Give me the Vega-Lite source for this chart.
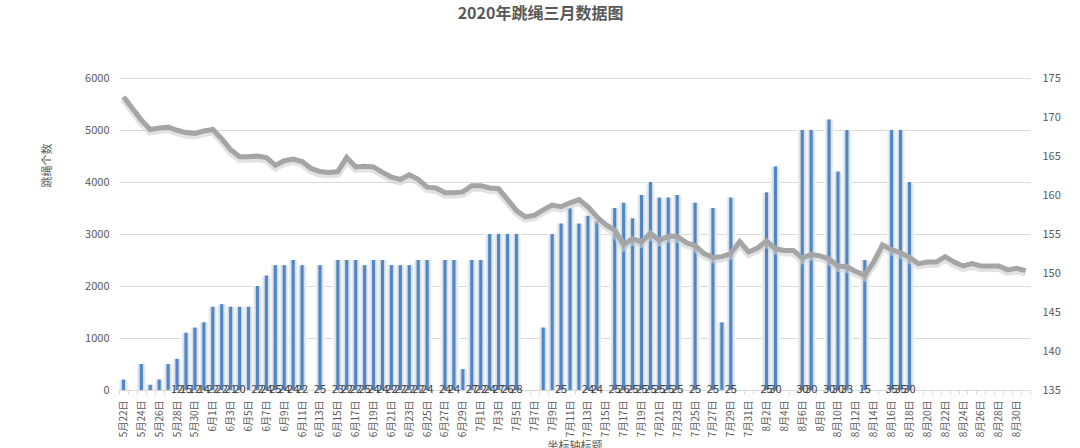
{
  "$schema": "https://vega.github.io/schema/vega-lite/v6.json",
  "width": 911,
  "height": 312,
  "autosize": "none",
  "padding": {"left": 119, "top": 78, "right": 50, "bottom": 58},
  "background": "white",
  "config": {"font": "Noto Sans CJK SC", "view": {"stroke": null}, "axis": {"labelOverlap": false}, "axisRight": {"labelOverlap": false}},
  "title": {"text": "2020年跳绳三月数据图", "anchor": "middle", "dx": -34, "offset": 50, "fontSize": 16, "fontWeight": "bold", "color": "#595959", "font": "Noto Sans CJK SC"},
  "data": {"values": [
    {"d": "5月22日", "n": 200, "m": null, "w": 172.6},
    {"d": "5月23日", "n": null, "m": null, "w": 171.1},
    {"d": "5月24日", "n": 500, "m": null, "w": 169.6},
    {"d": "5月25日", "n": 100, "m": null, "w": 168.4},
    {"d": "5月26日", "n": 200, "m": null, "w": 168.6},
    {"d": "5月27日", "n": 500, "m": null, "w": 168.7},
    {"d": "5月28日", "n": 600, "m": 12, "w": 168.3},
    {"d": "5月29日", "n": 1100, "m": 15, "w": 168.0},
    {"d": "5月30日", "n": 1200, "m": 12, "w": 167.9},
    {"d": "5月31日", "n": 1300, "m": 14, "w": 168.2},
    {"d": "6月1日", "n": 1600, "m": 22, "w": 168.4},
    {"d": "6月2日", "n": 1650, "m": 22, "w": 167.2},
    {"d": "6月3日", "n": 1600, "m": 21, "w": 165.8},
    {"d": "6月4日", "n": 1600, "m": 20, "w": 164.9},
    {"d": "6月5日", "n": 1600, "m": null, "w": 164.9},
    {"d": "6月6日", "n": 2000, "m": 22, "w": 165.0},
    {"d": "6月7日", "n": 2200, "m": 24, "w": 164.8},
    {"d": "6月8日", "n": 2400, "m": 25, "w": 163.8},
    {"d": "6月9日", "n": 2400, "m": 24, "w": 164.4},
    {"d": "6月10日", "n": 2500, "m": 24, "w": 164.6},
    {"d": "6月11日", "n": 2400, "m": 22, "w": 164.3},
    {"d": "6月12日", "n": null, "m": null, "w": 163.4},
    {"d": "6月13日", "n": 2400, "m": 25, "w": 163.0},
    {"d": "6月14日", "n": null, "m": null, "w": 162.9},
    {"d": "6月15日", "n": 2500, "m": 23, "w": 163.0},
    {"d": "6月16日", "n": 2500, "m": 22, "w": 164.8},
    {"d": "6月17日", "n": 2500, "m": 22, "w": 163.6},
    {"d": "6月18日", "n": 2400, "m": 25, "w": 163.7},
    {"d": "6月19日", "n": 2500, "m": 24, "w": 163.6},
    {"d": "6月20日", "n": 2500, "m": 24, "w": 162.9},
    {"d": "6月21日", "n": 2400, "m": 22, "w": 162.3},
    {"d": "6月22日", "n": 2400, "m": 22, "w": 162.0},
    {"d": "6月23日", "n": 2400, "m": 22, "w": 162.6},
    {"d": "6月24日", "n": 2500, "m": 22, "w": 162.0},
    {"d": "6月25日", "n": 2500, "m": 24, "w": 161.0},
    {"d": "6月26日", "n": null, "m": null, "w": 160.9},
    {"d": "6月27日", "n": 2500, "m": 24, "w": 160.3},
    {"d": "6月28日", "n": 2500, "m": 24, "w": 160.3},
    {"d": "6月29日", "n": 400, "m": null, "w": 160.4},
    {"d": "6月30日", "n": 2500, "m": 27, "w": 161.2},
    {"d": "7月1日", "n": 2500, "m": 22, "w": 161.2},
    {"d": "7月2日", "n": 3000, "m": 24, "w": 160.9},
    {"d": "7月3日", "n": 3000, "m": 27, "w": 160.8},
    {"d": "7月4日", "n": 3000, "m": 26, "w": 159.4},
    {"d": "7月5日", "n": 3000, "m": 28, "w": 158.0},
    {"d": "7月6日", "n": null, "m": null, "w": 157.2},
    {"d": "7月7日", "n": null, "m": null, "w": 157.4},
    {"d": "7月8日", "n": 1200, "m": null, "w": 158.1},
    {"d": "7月9日", "n": 3000, "m": null, "w": 158.7},
    {"d": "7月10日", "n": 3200, "m": 25, "w": 158.5},
    {"d": "7月11日", "n": 3500, "m": null, "w": 159.0},
    {"d": "7月12日", "n": 3200, "m": null, "w": 159.4},
    {"d": "7月13日", "n": 3350, "m": 24, "w": 158.5},
    {"d": "7月14日", "n": 3250, "m": 24, "w": 157.2},
    {"d": "7月15日", "n": null, "m": null, "w": 156.2},
    {"d": "7月16日", "n": 3500, "m": 25, "w": 155.5},
    {"d": "7月17日", "n": 3600, "m": 26, "w": 153.6},
    {"d": "7月18日", "n": 3300, "m": 25, "w": 154.4},
    {"d": "7月19日", "n": 3750, "m": 25, "w": 154.0},
    {"d": "7月20日", "n": 4000, "m": 25, "w": 155.1},
    {"d": "7月21日", "n": 3700, "m": 25, "w": 154.2},
    {"d": "7月22日", "n": 3700, "m": 25, "w": 154.7},
    {"d": "7月23日", "n": 3750, "m": 25, "w": 154.7},
    {"d": "7月24日", "n": null, "m": null, "w": 153.9},
    {"d": "7月25日", "n": 3600, "m": 25, "w": 153.5},
    {"d": "7月26日", "n": null, "m": null, "w": 152.5},
    {"d": "7月27日", "n": 3500, "m": 25, "w": 152.0},
    {"d": "7月28日", "n": 1300, "m": null, "w": 152.1},
    {"d": "7月29日", "n": 3700, "m": 25, "w": 152.5},
    {"d": "7月30日", "n": null, "m": null, "w": 154.0},
    {"d": "7月31日", "n": null, "m": null, "w": 152.7},
    {"d": "8月1日", "n": null, "m": null, "w": 153.2},
    {"d": "8月2日", "n": 3800, "m": 25, "w": 154.1},
    {"d": "8月3日", "n": 4300, "m": 30, "w": 153.1},
    {"d": "8月4日", "n": null, "m": null, "w": 152.9},
    {"d": "8月5日", "n": null, "m": null, "w": 152.9},
    {"d": "8月6日", "n": 5000, "m": 30, "w": 151.9},
    {"d": "8月7日", "n": 5000, "m": 30, "w": 152.4},
    {"d": "8月8日", "n": null, "m": null, "w": 152.2},
    {"d": "8月9日", "n": 5200, "m": 30, "w": 151.8},
    {"d": "8月10日", "n": 4200, "m": 30, "w": 150.9},
    {"d": "8月11日", "n": 5000, "m": 33, "w": 150.8},
    {"d": "8月12日", "n": null, "m": null, "w": 150.2},
    {"d": "8月13日", "n": 2500, "m": 15, "w": 149.7},
    {"d": "8月14日", "n": null, "m": null, "w": 151.4},
    {"d": "8月15日", "n": null, "m": null, "w": 153.6},
    {"d": "8月16日", "n": 5000, "m": 35, "w": 153.0},
    {"d": "8月17日", "n": 5000, "m": 35, "w": 152.6},
    {"d": "8月18日", "n": 4000, "m": 30, "w": 152.0},
    {"d": "8月19日", "n": null, "m": null, "w": 151.2},
    {"d": "8月20日", "n": null, "m": null, "w": 151.4},
    {"d": "8月21日", "n": null, "m": null, "w": 151.4},
    {"d": "8月22日", "n": null, "m": null, "w": 152.1},
    {"d": "8月23日", "n": null, "m": null, "w": 151.4},
    {"d": "8月24日", "n": null, "m": null, "w": 150.9},
    {"d": "8月25日", "n": null, "m": null, "w": 151.2},
    {"d": "8月26日", "n": null, "m": null, "w": 150.9},
    {"d": "8月27日", "n": null, "m": null, "w": 150.9},
    {"d": "8月28日", "n": null, "m": null, "w": 150.9},
    {"d": "8月29日", "n": null, "m": null, "w": 150.4},
    {"d": "8月30日", "n": null, "m": null, "w": 150.6},
    {"d": "8月31日", "n": null, "m": null, "w": 150.3}
  ]},
  "encoding": {
    "x": {
      "field": "d", "type": "ordinal", "sort": null,
      "scale": {"paddingInner": 0, "paddingOuter": 0, "domain": ["5月22日","5月23日","5月24日","5月25日","5月26日","5月27日","5月28日","5月29日","5月30日","5月31日","6月1日","6月2日","6月3日","6月4日","6月5日","6月6日","6月7日","6月8日","6月9日","6月10日","6月11日","6月12日","6月13日","6月14日","6月15日","6月16日","6月17日","6月18日","6月19日","6月20日","6月21日","6月22日","6月23日","6月24日","6月25日","6月26日","6月27日","6月28日","6月29日","6月30日","7月1日","7月2日","7月3日","7月4日","7月5日","7月6日","7月7日","7月8日","7月9日","7月10日","7月11日","7月12日","7月13日","7月14日","7月15日","7月16日","7月17日","7月18日","7月19日","7月20日","7月21日","7月22日","7月23日","7月24日","7月25日","7月26日","7月27日","7月28日","7月29日","7月30日","7月31日","8月1日","8月2日","8月3日","8月4日","8月5日","8月6日","8月7日","8月8日","8月9日","8月10日","8月11日","8月12日","8月13日","8月14日","8月15日","8月16日","8月17日","8月18日","8月19日","8月20日","8月21日","8月22日","8月23日","8月24日","8月25日","8月26日","8月27日","8月28日","8月29日","8月30日","8月31日"]},
      "axis": {
        "title": "坐标轴标题", "titleFontSize": 11, "titleFontWeight": "normal", "titleColor": "#595959", "titleBaseline": "top", "titleY": 50,
        "labelAngle": -90, "labelAlign": "right", "labelBaseline": "middle", "labelFontSize": 10, "labelColor": "#595959", "labelPadding": 6,
        "labelOverlap": false,
        "labelExpr": "round(datum.index * 101) % 2 == 0 ? datum.label : ''",
        "domainColor": "#d9d9d9", "tickColor": "#d9d9d9", "tickSize": 4, "tickBand": "extent", "grid": false
      }
    }
  },
  "layer": [
    {
      "encoding": {
        "y": {"field": "n", "type": "quantitative", "scale": {"domain": [0, 6000]},
          "axis": {"values": [0, 1000, 2000, 3000, 4000, 5000, 6000], "format": "d", "labelOverlap": false, "title": "跳绳个数", "titleFontSize": 11, "titleFontWeight": "normal", "titleColor": "#595959", "titleX": -72, "titleY": 87, "titleAngle": -90, "titleAlign": "center", "titleBaseline": "middle",
            "labelFontSize": 11, "labelColor": "#595959", "labelPadding": 10, "domain": false, "ticks": false, "gridColor": "#d9d9d9"}}
      },
      "layer": [
        {
          "mark": {"type": "bar", "width": 9, "color": {"gradient": "linear", "x1": 0, "y1": 0, "x2": 1, "y2": 0, "stops": [{"offset": 0, "color": "#f7f9fb"}, {"offset": 0.5, "color": "#b4c2d3"}, {"offset": 1, "color": "#f7f9fb"}]}}
        },
        {
          "mark": {"type": "bar", "width": 3, "color": "#4f86c6"}
        },
        {
          "transform": [{"filter": "isValid(datum.m)"}],
          "mark": {"type": "text", "fontSize": 11, "color": "#404040", "baseline": "middle"},
          "encoding": {"y": {"datum": 0, "type": "quantitative"}, "text": {"field": "m", "type": "quantitative"}}
        }
      ]
    },
    {
      "encoding": {
        "y": {"field": "w", "type": "quantitative", "scale": {"domain": [135, 175], "zero": false},
          "axis": {"orient": "right", "values": [135, 140, 145, 150, 155, 160, 165, 170, 175], "tickCount": 9, "labelOverlap": false, "title": null, "grid": false, "domain": false, "ticks": false, "labelPadding": 12, "labelFontSize": 11, "labelColor": "#595959"}}
      },
      "layer": [
        {
          "mark": {"type": "line", "color": "#cfcfcf", "strokeWidth": 8, "opacity": 0.6, "yOffset": 2}
        },
        {
          "mark": {"type": "line", "color": "#a5a5a5", "strokeWidth": 5}
        }
      ]
    }
  ],
  "resolve": {"scale": {"y": "independent"}}
}
